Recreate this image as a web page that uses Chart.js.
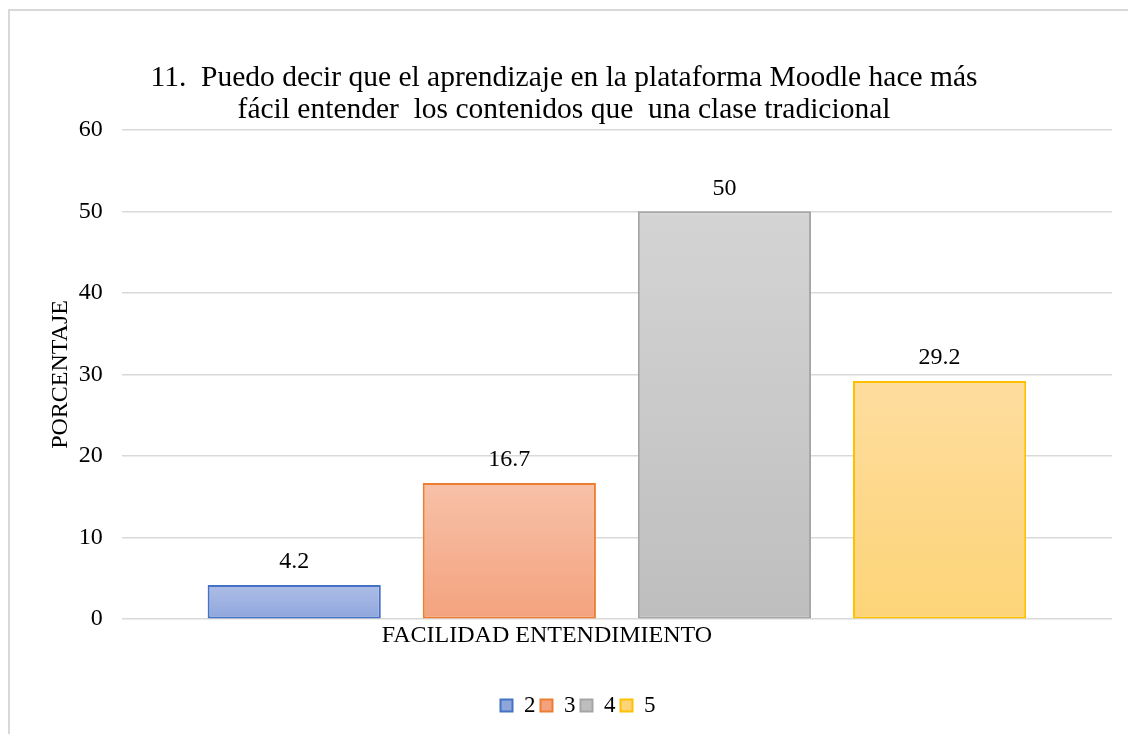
<!DOCTYPE html>
<html>
<head>
<meta charset="utf-8">
<script src="https://cdn.jsdelivr.net/npm/chart.js@4.4.0/dist/chart.umd.min.js"></script>
<style>
  html, body { margin: 0; padding: 0; background: #ffffff; }
  #wrap { position: relative; width: 1128px; height: 734px; }
</style>
</head>
<body>
<div id="wrap"><canvas id="c" width="1128" height="734"></canvas></div>
<script>
const categories = ["FACILIDAD ENTENDIMIENTO"];
const seriesNames = ["2", "3", "4", "5"];
const seriesValues = [[4.2], [16.7], [50], [29.2]];
const yTicks = [0, 10, 20, 30, 40, 50, 60];
const titleLines = ["11.  Puedo decir que el aprendizaje en la plataforma Moodle hace más", "fácil entender  los contenidos que  una clase tradicional"];
const yTitle = "PORCENTAJE";

const borderColors = ["#4472c4", "#ed7d31", "#a5a5a5", "#ffc000"];
const gradTop = ["#aebde6", "#f7c1a8", "#d4d4d4", "#fedd9e"];
const gradBottom = ["#8ea6dc", "#f4a27e", "#bebebe", "#fdd478"];

const FONT = "'Liberation Serif', 'Times New Roman', serif";

function barGradient(ctx) {
  const chart = ctx.chart;
  const i = ctx.datasetIndex;
  const ys = chart.scales.y;
  if (!ys || !chart.chartArea) return gradBottom[i];
  const v = ctx.raw;
  const top = ys.getPixelForValue(v);
  const bottom = ys.getPixelForValue(0);
  if (!isFinite(top) || !isFinite(bottom) || top === bottom) return gradBottom[i];
  const g = chart.ctx.createLinearGradient(0, top, 0, bottom);
  g.addColorStop(0, gradTop[i]);
  g.addColorStop(1, gradBottom[i]);
  return g;
}

const frame = {
  id: 'frame',
  beforeDraw(chart) {
    const c = chart.ctx;
    c.save();
    c.fillStyle = '#ffffff';
    c.fillRect(0, 0, chart.width, chart.height);
    c.strokeStyle = '#d9d9d9';
    c.lineWidth = 2;
    c.beginPath();
    c.moveTo(9, chart.height);
    c.lineTo(9, 10);
    c.lineTo(chart.width, 10);
    c.stroke();
    c.restore();
  }
};

const legendShift = {
  id: 'legendShift',
  afterLayout(chart) {
    if (chart.legend) {
      chart.legend.left += 14;
      chart.legend.right += 14;
    }
  }
};

const valueLabels = {
  id: 'valueLabels',
  afterDatasetsDraw(chart) {
    const c = chart.ctx;
    c.save();
    c.font = "24px " + FONT;
    c.fillStyle = '#000000';
    c.textAlign = 'center';
    c.textBaseline = 'middle';
    chart.data.datasets.forEach((ds, di) => {
      const meta = chart.getDatasetMeta(di);
      meta.data.forEach((el, j) => {
        c.fillText(String(ds.data[j]), el.x, el.y - 23);
      });
    });
    c.restore();
  }
};

const datasets = seriesNames.map((name, i) => ({
  label: name,
  data: seriesValues[i],
  backgroundColor: barGradient,
  borderColor: borderColors[i],
  borderWidth: 2,
  borderSkipped: false,
  categoryPercentage: 0.869,
  barPercentage: 0.805
}));

new Chart(document.getElementById('c'), {
  type: 'bar',
  data: { labels: categories, datasets: datasets },
  options: {
    responsive: false,
    animation: false,
    devicePixelRatio: 1,
    layout: { padding: { left: 16, right: 16, top: 0, bottom: 7 } },
    plugins: {
      title: {
        display: true,
        text: titleLines,
        color: '#000000',
        font: { family: FONT, size: 29.5, weight: 'normal', lineHeight: 1.08 },
        padding: { top: 62, bottom: 4 }
      },
      legend: {
        display: true,
        position: 'bottom',
        title: { display: true, text: ' ', font: { size: 10, lineHeight: 1 }, padding: { top: 35, bottom: 0 } },
        labels: {
          color: '#000000',
          font: { family: FONT, size: 23 },
          boxWidth: 12,
          boxHeight: 12,
          padding: 5,
          generateLabels(chart) {
            return chart.data.datasets.map((ds, i) => ({
              text: ds.label,
              fillStyle: gradBottom[i],
              strokeStyle: borderColors[i],
              lineWidth: 2,
              datasetIndex: i,
              fontColor: '#000000'
            }));
          }
        }
      },
      tooltip: { enabled: false }
    },
    scales: {
      x: {
        grid: { display: false },
        border: { display: false },
        ticks: {
          color: '#000000',
          font: { family: FONT, size: 24 },
          labelOffset: -70,
          padding: -6
        }
      },
      y: {
        min: 0,
        max: 60,
        afterBuildTicks(scale) { scale.ticks = yTicks.map(v => ({ value: v })); },
        grid: { color: '#d9d9d9', lineWidth: 1.5, drawTicks: false },
        border: { display: false },
        ticks: {
          color: '#000000',
          font: { family: FONT, size: 24 },
          padding: 19
        },
        title: {
          display: true,
          text: yTitle,
          color: '#000000',
          font: { family: FONT, size: 24 },
          padding: { top: 30, bottom: -15 }
        }
      }
    }
  },
  plugins: [frame, legendShift, valueLabels]
});
</script>
</body>
</html>
